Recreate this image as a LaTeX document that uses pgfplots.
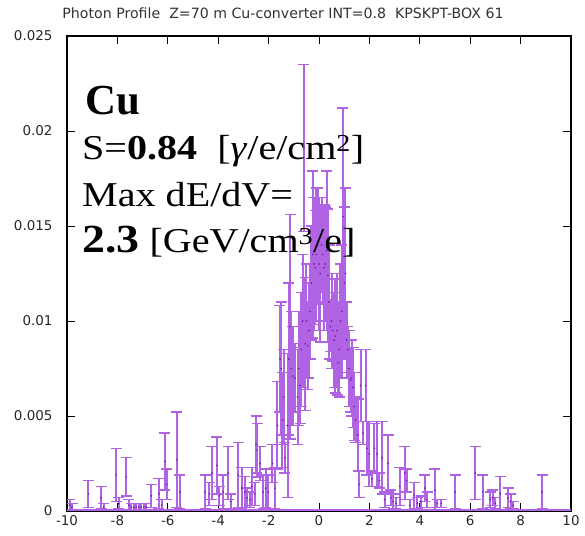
\documentclass[border=0pt]{standalone}
\usepackage{pgfplots}
\pgfplotsset{compat=1.18}
\usepackage{pgfplotstable}
\usepackage{fontspec}
\setmainfont{DejaVu Sans}
\newfontfamily\ovfont[FakeStretch=1.15]{Liberation Serif}
\newfontfamily\ovplain{Liberation Serif}
\definecolor{gp}{RGB}{176,100,228}
\definecolor{gpdark}{RGB}{110,30,160}

\pgfplotstableread{
x y e
-9.90 0.0003 0.0003
-9.80 0.0002 0.0002
-9.15 0.0009 0.0007
-8.65 0.0007 0.0006
-8.55 0.0002 0.0002
-8.05 0.0019 0.0014
-7.95 0.0004 0.0003
-7.65 0.0018 0.0010
-7.55 0.0003 0.0003
-7.45 0.0002 0.0002
-7.35 0.0002 0.0002
-7.25 0.0002 0.0002
-7.15 0.0002 0.0002
-7.05 0.0002 0.0002
-6.95 0.0002 0.0002
-6.85 0.0002 0.0002
-6.65 0.0008 0.0006
-6.35 0.0009 0.0008
-6.25 0.0003 0.0003
-6.12 0.0026 0.0015
-6.05 0.0014 0.0008
-5.65 0.0027 0.0025
-5.52 0.0010 0.0009
-4.52 0.0010 0.0009
-4.35 0.0009 0.0006
-4.25 0.0020 0.0014
-4.05 0.0024 0.0015
-3.95 0.0008 0.0005
-3.80 0.0010 0.0009
-3.60 0.0020 0.0014
-3.50 0.0005 0.0004
-3.20 0.0019 0.0017
-3.07 0.0012 0.0011
-2.94 0.0010 0.0008
-2.85 0.0007 0.0005
-2.75 0.0006 0.0004
-2.67 0.0013 0.0010
-2.55 0.0009 0.0006
-2.50 0.0035 0.0015
-2.45 0.0032 0.0014
-2.34 0.0025 0.0009
-2.22 0.0010 0.0009
-2.12 0.0012 0.0010
-2.01 0.0010 0.0009
-1.85 0.0025 0.0010
-1.75 0.0012 0.0011
-1.65 0.0045 0.0023
-1.55 0.0080 0.0028
-1.50 0.0075 0.0035
-1.45 0.0048 0.0025
-1.40 0.0060 0.0025
-1.35 0.0028 0.0008
-1.25 0.0045 0.0038
-1.20 0.0080 0.0040
-1.15 0.0097 0.0059
-1.10 0.0075 0.0030
-1.05 0.0071 0.0026
-0.95 0.0070 0.0018
-0.85 0.0060 0.0025
-0.80 0.0075 0.0030
-0.75 0.0066 0.0020
-0.70 0.0085 0.0030
-0.65 0.0100 0.0035
-0.60 0.0191 0.0044
-0.55 0.0088 0.0035
-0.50 0.0100 0.0030
-0.45 0.0087 0.0023
-0.40 0.0095 0.0025
-0.35 0.0105 0.0025
-0.30 0.0120 0.0030
-0.25 0.0135 0.0044
-0.20 0.0130 0.0035
-0.15 0.0128 0.0030
-0.10 0.0135 0.0035
-0.05 0.0140 0.0030
0.00 0.0130 0.0035
0.05 0.0125 0.0036
0.10 0.0140 0.0025
0.15 0.0135 0.0026
0.20 0.0128 0.0033
0.25 0.0130 0.0030
0.30 0.0137 0.0042
0.35 0.0124 0.0035
0.40 0.0110 0.0030
0.45 0.0097 0.0013
0.50 0.0100 0.0025
0.55 0.0095 0.0016
0.60 0.0090 0.0025
0.65 0.0092 0.0030
0.70 0.0095 0.0030
0.75 0.0078 0.0017
0.80 0.0085 0.0025
0.85 0.0100 0.0030
0.90 0.0105 0.0035
0.95 0.0155 0.0057
1.00 0.0120 0.0040
1.05 0.0125 0.0045
1.10 0.0090 0.0020
1.15 0.0085 0.0012
1.20 0.0075 0.0020
1.25 0.0069 0.0017
1.30 0.0070 0.0020
1.35 0.0065 0.0021
1.40 0.0055 0.0018
1.45 0.0048 0.0012
1.55 0.0040 0.0019
1.60 0.0014 0.0007
1.65 0.0066 0.0019
1.75 0.0041 0.0006
1.85 0.0066 0.0019
1.90 0.0033 0.0014
2.00 0.0030 0.0017
2.10 0.0017 0.0004
2.20 0.0033 0.0013
2.30 0.0030 0.0017
2.40 0.0016 0.0004
2.50 0.0028 0.0019
2.60 0.0006 0.0004
2.75 0.0025 0.0015
2.85 0.0007 0.0004
2.95 0.0005 0.0004
3.05 0.0004 0.0003
3.20 0.0013 0.0010
3.40 0.0020 0.0014
3.48 0.0016 0.0006
3.60 0.0003 0.0003
3.78 0.0008 0.0007
3.90 0.0004 0.0003
4.05 0.0005 0.0003
4.20 0.0012 0.0007
4.30 0.0006 0.0004
4.60 0.0011 0.0011
4.70 0.0004 0.0002
4.85 0.0004 0.0002
5.40 0.0010 0.0009
6.20 0.0020 0.0014
6.50 0.0010 0.0009
6.80 0.0006 0.0004
6.90 0.0007 0.0004
7.00 0.0004 0.0003
7.20 0.0009 0.0009
7.50 0.0007 0.0005
7.60 0.0005 0.0004
7.70 0.0003 0.0002
8.85 0.0010 0.0009
}\profile

\begin{document}
\begin{tikzpicture}
\begin{axis}[
  at={(0,0)}, anchor=south west,
  scale only axis, width=504bp, height=475bp,
  xmin=-10, xmax=10, ymin=0, ymax=0.025,
  xtick={-10,-8,-6,-4,-2,0,2,4,6,8,10},
  xticklabels={-10,-8,-6,-4,-2,0,2,4,6,8,10},
  ytick={0,0.005,0.01,0.015,0.02,0.025},
  yticklabels={0,0.005,0.01,0.015,0.02,0.025},
  scaled y ticks=false,
  tick align=inside, major tick length=8bp,
  tick style={black, line width=0.8bp},
  axis line style={black, line width=1.2bp},
  ticklabel style={font=\fontsize{13.5}{15}\selectfont, text=black!85},
  yticklabel style={xshift=-11bp},
  xticklabel style={yshift=-1bp},
]
\addplot[gp, line width=3bp] coordinates {(-10,0) (10,0)};
\addplot[gp, only marks, mark=*, mark size=0.6bp,
  mark options={draw=gpdark, fill=gpdark},
  error bars/.cd, y dir=both, y explicit,
  error bar style={line width=2bp, gp},
  error mark options={rotate=90, gp, mark size=5.5bp, line width=1.4bp}]
  table[x=x, y=y, y error=e] {\profile};
\end{axis}
\node[font=\fontsize{14.2}{16}\selectfont, text=black!80] at (216bp,498bp)
  {Photon Profile\ \ Z=70 m Cu-converter INT=0.8\ \ KPSKPT-BOX 61};
\node[anchor=base west, inner sep=0, font=\ovplain\fontsize{43}{43}\selectfont\bfseries] at (18bp,396bp) {Cu};
\node[anchor=base west, inner sep=0, font=\ovfont\fontsize{35}{35}\selectfont] at (15bp,351bp)
  {S=\textbf{0.84}\ \ [\textit{γ}/e/cm\textsuperscript{2}]};
\node[anchor=base west, inner sep=0, font=\ovfont\fontsize{35}{35}\selectfont] at (15bp,304bp)
  {Max dE/dV=};
\node[anchor=base west, inner sep=0, font=\ovfont\fontsize{35}{35}\selectfont] at (15bp,258bp)
  {{\bfseries\fontsize{40}{40}\selectfont 2.3} [GeV/cm\textsuperscript{3}/e]};
\pgfresetboundingbox
\path[use as bounding box] (-67bp,-25bp) rectangle (518bp,511bp);
\end{tikzpicture}
\end{document}
